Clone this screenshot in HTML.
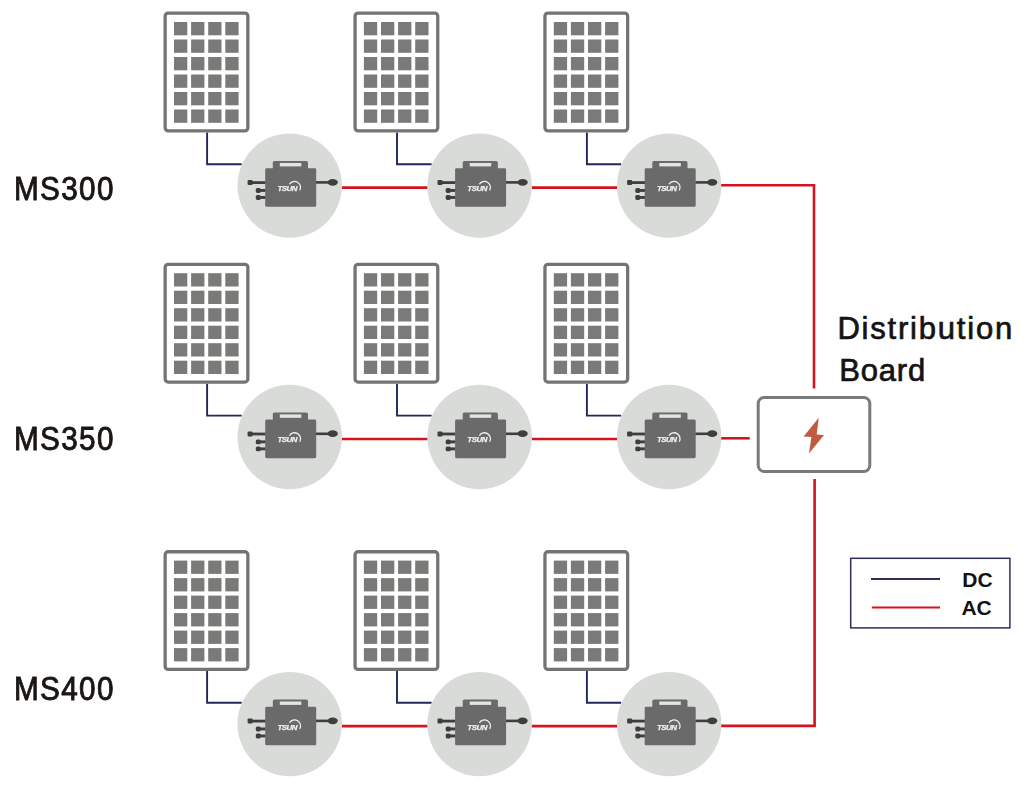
<!DOCTYPE html>
<html><head><meta charset="utf-8">
<style>
html,body{margin:0;padding:0;background:#fff;}
body{width:1030px;height:792px;position:relative;overflow:hidden;font-family:"Liberation Sans",sans-serif;}
svg{position:absolute;left:0;top:0;}
.t{position:absolute;color:#1a1a1a;white-space:nowrap;line-height:1;}
.ms{font-size:33px;font-weight:normal;left:14.4px;letter-spacing:1.5px;color:#1a1614;-webkit-text-stroke:0.9px #1a1614;transform:scaleX(0.9);transform-origin:0 0;}
.db{font-size:31px;font-weight:normal;color:#151312;-webkit-text-stroke:0.7px #151312;}
.lg{font-size:21px;font-weight:bold;color:#111;}
</style></head>
<body>
<svg width="1030" height="792" viewBox="0 0 1030 792">
<path d="M 207.10 132.50 V 164.20 H 241.70" fill="none" stroke="#23265a" stroke-width="1.9"/>
<path d="M 397.00 132.50 V 164.20 H 431.60" fill="none" stroke="#23265a" stroke-width="1.9"/>
<path d="M 586.90 132.50 V 164.20 H 621.20" fill="none" stroke="#23265a" stroke-width="1.9"/>
<line x1="341.70" y1="187.6" x2="427.60" y2="187.6" stroke="#d3141c" stroke-width="2.6"/>
<line x1="531.60" y1="187.6" x2="617.20" y2="187.6" stroke="#d3141c" stroke-width="2.6"/>
<rect x="165.15" y="13.15" width="82.70" height="117.70" rx="3" ry="3" fill="#fff" stroke="#757472" stroke-width="3.3"/>
<rect x="174.00" y="22.00" width="13.3" height="13.3" fill="#7b7a78"/>
<rect x="191.10" y="22.00" width="13.3" height="13.3" fill="#7b7a78"/>
<rect x="208.20" y="22.00" width="13.3" height="13.3" fill="#7b7a78"/>
<rect x="225.30" y="22.00" width="13.3" height="13.3" fill="#7b7a78"/>
<rect x="174.00" y="39.50" width="13.3" height="13.3" fill="#7b7a78"/>
<rect x="191.10" y="39.50" width="13.3" height="13.3" fill="#7b7a78"/>
<rect x="208.20" y="39.50" width="13.3" height="13.3" fill="#7b7a78"/>
<rect x="225.30" y="39.50" width="13.3" height="13.3" fill="#7b7a78"/>
<rect x="174.00" y="57.00" width="13.3" height="13.3" fill="#7b7a78"/>
<rect x="191.10" y="57.00" width="13.3" height="13.3" fill="#7b7a78"/>
<rect x="208.20" y="57.00" width="13.3" height="13.3" fill="#7b7a78"/>
<rect x="225.30" y="57.00" width="13.3" height="13.3" fill="#7b7a78"/>
<rect x="174.00" y="74.50" width="13.3" height="13.3" fill="#7b7a78"/>
<rect x="191.10" y="74.50" width="13.3" height="13.3" fill="#7b7a78"/>
<rect x="208.20" y="74.50" width="13.3" height="13.3" fill="#7b7a78"/>
<rect x="225.30" y="74.50" width="13.3" height="13.3" fill="#7b7a78"/>
<rect x="174.00" y="92.00" width="13.3" height="13.3" fill="#7b7a78"/>
<rect x="191.10" y="92.00" width="13.3" height="13.3" fill="#7b7a78"/>
<rect x="208.20" y="92.00" width="13.3" height="13.3" fill="#7b7a78"/>
<rect x="225.30" y="92.00" width="13.3" height="13.3" fill="#7b7a78"/>
<rect x="174.00" y="109.50" width="13.3" height="13.3" fill="#7b7a78"/>
<rect x="191.10" y="109.50" width="13.3" height="13.3" fill="#7b7a78"/>
<rect x="208.20" y="109.50" width="13.3" height="13.3" fill="#7b7a78"/>
<rect x="225.30" y="109.50" width="13.3" height="13.3" fill="#7b7a78"/>
<circle cx="289.7" cy="185.6" r="52.2" fill="#d9dbd8"/>
<g transform="translate(289.7,185.6)">
<rect x="-38" y="-4.4" width="14" height="2.8" fill="#3e3e3e"/>
<rect x="-42.1" y="-5.6" width="5" height="5" rx="1" fill="#3e3e3e"/>
<rect x="-33.9" y="2.40" width="5" height="4.9" rx="1.6" fill="#3e3e3e"/>
<rect x="-30" y="3.40" width="6" height="2.9" fill="#3e3e3e"/>
<rect x="-33.9" y="9.40" width="5" height="4.9" rx="1.6" fill="#3e3e3e"/>
<rect x="-30" y="10.40" width="6" height="2.9" fill="#3e3e3e"/>
<rect x="26" y="-4.5" width="14" height="2.6" fill="#3e3e3e"/>
<ellipse cx="43" cy="-3.3" rx="5.1" ry="3.4" fill="#3e3e3e"/>
<rect x="-16.9" y="-24.5" width="35.2" height="10" rx="1.6" fill="#6a6a6a"/>
<rect x="-9.9" y="-22.6" width="21.5" height="3.4" fill="#e4e4e4"/>
<rect x="-24.5" y="-17.4" width="51" height="38.6" rx="1.4" fill="#6a6a6a"/>
<text x="-12.3" y="5.4" font-family="Liberation Sans" font-style="italic" font-weight="bold" font-size="7.9" letter-spacing="-0.45" fill="#f2f2f2" stroke="#f2f2f2" stroke-width="0.25" style="filter:grayscale(100%)">TSUN</text>
<path d="M -0.3 -1.3 A 5.3 5.3 0 1 1 10.0 4.8" fill="none" stroke="#f2f2f2" stroke-width="1.25"/>
</g>
<rect x="355.05" y="13.15" width="82.70" height="117.70" rx="3" ry="3" fill="#fff" stroke="#757472" stroke-width="3.3"/>
<rect x="363.90" y="22.00" width="13.3" height="13.3" fill="#7b7a78"/>
<rect x="381.00" y="22.00" width="13.3" height="13.3" fill="#7b7a78"/>
<rect x="398.10" y="22.00" width="13.3" height="13.3" fill="#7b7a78"/>
<rect x="415.20" y="22.00" width="13.3" height="13.3" fill="#7b7a78"/>
<rect x="363.90" y="39.50" width="13.3" height="13.3" fill="#7b7a78"/>
<rect x="381.00" y="39.50" width="13.3" height="13.3" fill="#7b7a78"/>
<rect x="398.10" y="39.50" width="13.3" height="13.3" fill="#7b7a78"/>
<rect x="415.20" y="39.50" width="13.3" height="13.3" fill="#7b7a78"/>
<rect x="363.90" y="57.00" width="13.3" height="13.3" fill="#7b7a78"/>
<rect x="381.00" y="57.00" width="13.3" height="13.3" fill="#7b7a78"/>
<rect x="398.10" y="57.00" width="13.3" height="13.3" fill="#7b7a78"/>
<rect x="415.20" y="57.00" width="13.3" height="13.3" fill="#7b7a78"/>
<rect x="363.90" y="74.50" width="13.3" height="13.3" fill="#7b7a78"/>
<rect x="381.00" y="74.50" width="13.3" height="13.3" fill="#7b7a78"/>
<rect x="398.10" y="74.50" width="13.3" height="13.3" fill="#7b7a78"/>
<rect x="415.20" y="74.50" width="13.3" height="13.3" fill="#7b7a78"/>
<rect x="363.90" y="92.00" width="13.3" height="13.3" fill="#7b7a78"/>
<rect x="381.00" y="92.00" width="13.3" height="13.3" fill="#7b7a78"/>
<rect x="398.10" y="92.00" width="13.3" height="13.3" fill="#7b7a78"/>
<rect x="415.20" y="92.00" width="13.3" height="13.3" fill="#7b7a78"/>
<rect x="363.90" y="109.50" width="13.3" height="13.3" fill="#7b7a78"/>
<rect x="381.00" y="109.50" width="13.3" height="13.3" fill="#7b7a78"/>
<rect x="398.10" y="109.50" width="13.3" height="13.3" fill="#7b7a78"/>
<rect x="415.20" y="109.50" width="13.3" height="13.3" fill="#7b7a78"/>
<circle cx="479.6" cy="185.6" r="52.2" fill="#d9dbd8"/>
<g transform="translate(479.6,185.6)">
<rect x="-38" y="-4.4" width="14" height="2.8" fill="#3e3e3e"/>
<rect x="-42.1" y="-5.6" width="5" height="5" rx="1" fill="#3e3e3e"/>
<rect x="-33.9" y="2.40" width="5" height="4.9" rx="1.6" fill="#3e3e3e"/>
<rect x="-30" y="3.40" width="6" height="2.9" fill="#3e3e3e"/>
<rect x="-33.9" y="9.40" width="5" height="4.9" rx="1.6" fill="#3e3e3e"/>
<rect x="-30" y="10.40" width="6" height="2.9" fill="#3e3e3e"/>
<rect x="26" y="-4.5" width="14" height="2.6" fill="#3e3e3e"/>
<ellipse cx="43" cy="-3.3" rx="5.1" ry="3.4" fill="#3e3e3e"/>
<rect x="-16.9" y="-24.5" width="35.2" height="10" rx="1.6" fill="#6a6a6a"/>
<rect x="-9.9" y="-22.6" width="21.5" height="3.4" fill="#e4e4e4"/>
<rect x="-24.5" y="-17.4" width="51" height="38.6" rx="1.4" fill="#6a6a6a"/>
<text x="-12.3" y="5.4" font-family="Liberation Sans" font-style="italic" font-weight="bold" font-size="7.9" letter-spacing="-0.45" fill="#f2f2f2" stroke="#f2f2f2" stroke-width="0.25" style="filter:grayscale(100%)">TSUN</text>
<path d="M -0.3 -1.3 A 5.3 5.3 0 1 1 10.0 4.8" fill="none" stroke="#f2f2f2" stroke-width="1.25"/>
</g>
<rect x="544.95" y="13.15" width="82.70" height="117.70" rx="3" ry="3" fill="#fff" stroke="#757472" stroke-width="3.3"/>
<rect x="553.80" y="22.00" width="13.3" height="13.3" fill="#7b7a78"/>
<rect x="570.90" y="22.00" width="13.3" height="13.3" fill="#7b7a78"/>
<rect x="588.00" y="22.00" width="13.3" height="13.3" fill="#7b7a78"/>
<rect x="605.10" y="22.00" width="13.3" height="13.3" fill="#7b7a78"/>
<rect x="553.80" y="39.50" width="13.3" height="13.3" fill="#7b7a78"/>
<rect x="570.90" y="39.50" width="13.3" height="13.3" fill="#7b7a78"/>
<rect x="588.00" y="39.50" width="13.3" height="13.3" fill="#7b7a78"/>
<rect x="605.10" y="39.50" width="13.3" height="13.3" fill="#7b7a78"/>
<rect x="553.80" y="57.00" width="13.3" height="13.3" fill="#7b7a78"/>
<rect x="570.90" y="57.00" width="13.3" height="13.3" fill="#7b7a78"/>
<rect x="588.00" y="57.00" width="13.3" height="13.3" fill="#7b7a78"/>
<rect x="605.10" y="57.00" width="13.3" height="13.3" fill="#7b7a78"/>
<rect x="553.80" y="74.50" width="13.3" height="13.3" fill="#7b7a78"/>
<rect x="570.90" y="74.50" width="13.3" height="13.3" fill="#7b7a78"/>
<rect x="588.00" y="74.50" width="13.3" height="13.3" fill="#7b7a78"/>
<rect x="605.10" y="74.50" width="13.3" height="13.3" fill="#7b7a78"/>
<rect x="553.80" y="92.00" width="13.3" height="13.3" fill="#7b7a78"/>
<rect x="570.90" y="92.00" width="13.3" height="13.3" fill="#7b7a78"/>
<rect x="588.00" y="92.00" width="13.3" height="13.3" fill="#7b7a78"/>
<rect x="605.10" y="92.00" width="13.3" height="13.3" fill="#7b7a78"/>
<rect x="553.80" y="109.50" width="13.3" height="13.3" fill="#7b7a78"/>
<rect x="570.90" y="109.50" width="13.3" height="13.3" fill="#7b7a78"/>
<rect x="588.00" y="109.50" width="13.3" height="13.3" fill="#7b7a78"/>
<rect x="605.10" y="109.50" width="13.3" height="13.3" fill="#7b7a78"/>
<circle cx="669.2" cy="185.6" r="52.2" fill="#d9dbd8"/>
<g transform="translate(669.2,185.6)">
<rect x="-38" y="-4.4" width="14" height="2.8" fill="#3e3e3e"/>
<rect x="-42.1" y="-5.6" width="5" height="5" rx="1" fill="#3e3e3e"/>
<rect x="-33.9" y="2.40" width="5" height="4.9" rx="1.6" fill="#3e3e3e"/>
<rect x="-30" y="3.40" width="6" height="2.9" fill="#3e3e3e"/>
<rect x="-33.9" y="9.40" width="5" height="4.9" rx="1.6" fill="#3e3e3e"/>
<rect x="-30" y="10.40" width="6" height="2.9" fill="#3e3e3e"/>
<rect x="26" y="-4.5" width="14" height="2.6" fill="#3e3e3e"/>
<ellipse cx="43" cy="-3.3" rx="5.1" ry="3.4" fill="#3e3e3e"/>
<rect x="-16.9" y="-24.5" width="35.2" height="10" rx="1.6" fill="#6a6a6a"/>
<rect x="-9.9" y="-22.6" width="21.5" height="3.4" fill="#e4e4e4"/>
<rect x="-24.5" y="-17.4" width="51" height="38.6" rx="1.4" fill="#6a6a6a"/>
<text x="-12.3" y="5.4" font-family="Liberation Sans" font-style="italic" font-weight="bold" font-size="7.9" letter-spacing="-0.45" fill="#f2f2f2" stroke="#f2f2f2" stroke-width="0.25" style="filter:grayscale(100%)">TSUN</text>
<path d="M -0.3 -1.3 A 5.3 5.3 0 1 1 10.0 4.8" fill="none" stroke="#f2f2f2" stroke-width="1.25"/>
</g>
<path d="M 207.10 383.70 V 415.60 H 241.70" fill="none" stroke="#23265a" stroke-width="1.9"/>
<path d="M 397.00 383.70 V 415.60 H 431.60" fill="none" stroke="#23265a" stroke-width="1.9"/>
<path d="M 586.90 383.70 V 415.60 H 621.20" fill="none" stroke="#23265a" stroke-width="1.9"/>
<line x1="341.70" y1="439.0" x2="427.60" y2="439.0" stroke="#d3141c" stroke-width="2.6"/>
<line x1="531.60" y1="439.0" x2="617.20" y2="439.0" stroke="#d3141c" stroke-width="2.6"/>
<rect x="165.15" y="264.35" width="82.70" height="117.70" rx="3" ry="3" fill="#fff" stroke="#757472" stroke-width="3.3"/>
<rect x="174.00" y="273.20" width="13.3" height="13.3" fill="#7b7a78"/>
<rect x="191.10" y="273.20" width="13.3" height="13.3" fill="#7b7a78"/>
<rect x="208.20" y="273.20" width="13.3" height="13.3" fill="#7b7a78"/>
<rect x="225.30" y="273.20" width="13.3" height="13.3" fill="#7b7a78"/>
<rect x="174.00" y="290.70" width="13.3" height="13.3" fill="#7b7a78"/>
<rect x="191.10" y="290.70" width="13.3" height="13.3" fill="#7b7a78"/>
<rect x="208.20" y="290.70" width="13.3" height="13.3" fill="#7b7a78"/>
<rect x="225.30" y="290.70" width="13.3" height="13.3" fill="#7b7a78"/>
<rect x="174.00" y="308.20" width="13.3" height="13.3" fill="#7b7a78"/>
<rect x="191.10" y="308.20" width="13.3" height="13.3" fill="#7b7a78"/>
<rect x="208.20" y="308.20" width="13.3" height="13.3" fill="#7b7a78"/>
<rect x="225.30" y="308.20" width="13.3" height="13.3" fill="#7b7a78"/>
<rect x="174.00" y="325.70" width="13.3" height="13.3" fill="#7b7a78"/>
<rect x="191.10" y="325.70" width="13.3" height="13.3" fill="#7b7a78"/>
<rect x="208.20" y="325.70" width="13.3" height="13.3" fill="#7b7a78"/>
<rect x="225.30" y="325.70" width="13.3" height="13.3" fill="#7b7a78"/>
<rect x="174.00" y="343.20" width="13.3" height="13.3" fill="#7b7a78"/>
<rect x="191.10" y="343.20" width="13.3" height="13.3" fill="#7b7a78"/>
<rect x="208.20" y="343.20" width="13.3" height="13.3" fill="#7b7a78"/>
<rect x="225.30" y="343.20" width="13.3" height="13.3" fill="#7b7a78"/>
<rect x="174.00" y="360.70" width="13.3" height="13.3" fill="#7b7a78"/>
<rect x="191.10" y="360.70" width="13.3" height="13.3" fill="#7b7a78"/>
<rect x="208.20" y="360.70" width="13.3" height="13.3" fill="#7b7a78"/>
<rect x="225.30" y="360.70" width="13.3" height="13.3" fill="#7b7a78"/>
<circle cx="289.7" cy="437.0" r="52.2" fill="#d9dbd8"/>
<g transform="translate(289.7,437.0)">
<rect x="-38" y="-4.4" width="14" height="2.8" fill="#3e3e3e"/>
<rect x="-42.1" y="-5.6" width="5" height="5" rx="1" fill="#3e3e3e"/>
<rect x="-33.9" y="2.40" width="5" height="4.9" rx="1.6" fill="#3e3e3e"/>
<rect x="-30" y="3.40" width="6" height="2.9" fill="#3e3e3e"/>
<rect x="-33.9" y="9.40" width="5" height="4.9" rx="1.6" fill="#3e3e3e"/>
<rect x="-30" y="10.40" width="6" height="2.9" fill="#3e3e3e"/>
<rect x="26" y="-4.5" width="14" height="2.6" fill="#3e3e3e"/>
<ellipse cx="43" cy="-3.3" rx="5.1" ry="3.4" fill="#3e3e3e"/>
<rect x="-16.9" y="-24.5" width="35.2" height="10" rx="1.6" fill="#6a6a6a"/>
<rect x="-9.9" y="-22.6" width="21.5" height="3.4" fill="#e4e4e4"/>
<rect x="-24.5" y="-17.4" width="51" height="38.6" rx="1.4" fill="#6a6a6a"/>
<text x="-12.3" y="5.4" font-family="Liberation Sans" font-style="italic" font-weight="bold" font-size="7.9" letter-spacing="-0.45" fill="#f2f2f2" stroke="#f2f2f2" stroke-width="0.25" style="filter:grayscale(100%)">TSUN</text>
<path d="M -0.3 -1.3 A 5.3 5.3 0 1 1 10.0 4.8" fill="none" stroke="#f2f2f2" stroke-width="1.25"/>
</g>
<rect x="355.05" y="264.35" width="82.70" height="117.70" rx="3" ry="3" fill="#fff" stroke="#757472" stroke-width="3.3"/>
<rect x="363.90" y="273.20" width="13.3" height="13.3" fill="#7b7a78"/>
<rect x="381.00" y="273.20" width="13.3" height="13.3" fill="#7b7a78"/>
<rect x="398.10" y="273.20" width="13.3" height="13.3" fill="#7b7a78"/>
<rect x="415.20" y="273.20" width="13.3" height="13.3" fill="#7b7a78"/>
<rect x="363.90" y="290.70" width="13.3" height="13.3" fill="#7b7a78"/>
<rect x="381.00" y="290.70" width="13.3" height="13.3" fill="#7b7a78"/>
<rect x="398.10" y="290.70" width="13.3" height="13.3" fill="#7b7a78"/>
<rect x="415.20" y="290.70" width="13.3" height="13.3" fill="#7b7a78"/>
<rect x="363.90" y="308.20" width="13.3" height="13.3" fill="#7b7a78"/>
<rect x="381.00" y="308.20" width="13.3" height="13.3" fill="#7b7a78"/>
<rect x="398.10" y="308.20" width="13.3" height="13.3" fill="#7b7a78"/>
<rect x="415.20" y="308.20" width="13.3" height="13.3" fill="#7b7a78"/>
<rect x="363.90" y="325.70" width="13.3" height="13.3" fill="#7b7a78"/>
<rect x="381.00" y="325.70" width="13.3" height="13.3" fill="#7b7a78"/>
<rect x="398.10" y="325.70" width="13.3" height="13.3" fill="#7b7a78"/>
<rect x="415.20" y="325.70" width="13.3" height="13.3" fill="#7b7a78"/>
<rect x="363.90" y="343.20" width="13.3" height="13.3" fill="#7b7a78"/>
<rect x="381.00" y="343.20" width="13.3" height="13.3" fill="#7b7a78"/>
<rect x="398.10" y="343.20" width="13.3" height="13.3" fill="#7b7a78"/>
<rect x="415.20" y="343.20" width="13.3" height="13.3" fill="#7b7a78"/>
<rect x="363.90" y="360.70" width="13.3" height="13.3" fill="#7b7a78"/>
<rect x="381.00" y="360.70" width="13.3" height="13.3" fill="#7b7a78"/>
<rect x="398.10" y="360.70" width="13.3" height="13.3" fill="#7b7a78"/>
<rect x="415.20" y="360.70" width="13.3" height="13.3" fill="#7b7a78"/>
<circle cx="479.6" cy="437.0" r="52.2" fill="#d9dbd8"/>
<g transform="translate(479.6,437.0)">
<rect x="-38" y="-4.4" width="14" height="2.8" fill="#3e3e3e"/>
<rect x="-42.1" y="-5.6" width="5" height="5" rx="1" fill="#3e3e3e"/>
<rect x="-33.9" y="2.40" width="5" height="4.9" rx="1.6" fill="#3e3e3e"/>
<rect x="-30" y="3.40" width="6" height="2.9" fill="#3e3e3e"/>
<rect x="-33.9" y="9.40" width="5" height="4.9" rx="1.6" fill="#3e3e3e"/>
<rect x="-30" y="10.40" width="6" height="2.9" fill="#3e3e3e"/>
<rect x="26" y="-4.5" width="14" height="2.6" fill="#3e3e3e"/>
<ellipse cx="43" cy="-3.3" rx="5.1" ry="3.4" fill="#3e3e3e"/>
<rect x="-16.9" y="-24.5" width="35.2" height="10" rx="1.6" fill="#6a6a6a"/>
<rect x="-9.9" y="-22.6" width="21.5" height="3.4" fill="#e4e4e4"/>
<rect x="-24.5" y="-17.4" width="51" height="38.6" rx="1.4" fill="#6a6a6a"/>
<text x="-12.3" y="5.4" font-family="Liberation Sans" font-style="italic" font-weight="bold" font-size="7.9" letter-spacing="-0.45" fill="#f2f2f2" stroke="#f2f2f2" stroke-width="0.25" style="filter:grayscale(100%)">TSUN</text>
<path d="M -0.3 -1.3 A 5.3 5.3 0 1 1 10.0 4.8" fill="none" stroke="#f2f2f2" stroke-width="1.25"/>
</g>
<rect x="544.95" y="264.35" width="82.70" height="117.70" rx="3" ry="3" fill="#fff" stroke="#757472" stroke-width="3.3"/>
<rect x="553.80" y="273.20" width="13.3" height="13.3" fill="#7b7a78"/>
<rect x="570.90" y="273.20" width="13.3" height="13.3" fill="#7b7a78"/>
<rect x="588.00" y="273.20" width="13.3" height="13.3" fill="#7b7a78"/>
<rect x="605.10" y="273.20" width="13.3" height="13.3" fill="#7b7a78"/>
<rect x="553.80" y="290.70" width="13.3" height="13.3" fill="#7b7a78"/>
<rect x="570.90" y="290.70" width="13.3" height="13.3" fill="#7b7a78"/>
<rect x="588.00" y="290.70" width="13.3" height="13.3" fill="#7b7a78"/>
<rect x="605.10" y="290.70" width="13.3" height="13.3" fill="#7b7a78"/>
<rect x="553.80" y="308.20" width="13.3" height="13.3" fill="#7b7a78"/>
<rect x="570.90" y="308.20" width="13.3" height="13.3" fill="#7b7a78"/>
<rect x="588.00" y="308.20" width="13.3" height="13.3" fill="#7b7a78"/>
<rect x="605.10" y="308.20" width="13.3" height="13.3" fill="#7b7a78"/>
<rect x="553.80" y="325.70" width="13.3" height="13.3" fill="#7b7a78"/>
<rect x="570.90" y="325.70" width="13.3" height="13.3" fill="#7b7a78"/>
<rect x="588.00" y="325.70" width="13.3" height="13.3" fill="#7b7a78"/>
<rect x="605.10" y="325.70" width="13.3" height="13.3" fill="#7b7a78"/>
<rect x="553.80" y="343.20" width="13.3" height="13.3" fill="#7b7a78"/>
<rect x="570.90" y="343.20" width="13.3" height="13.3" fill="#7b7a78"/>
<rect x="588.00" y="343.20" width="13.3" height="13.3" fill="#7b7a78"/>
<rect x="605.10" y="343.20" width="13.3" height="13.3" fill="#7b7a78"/>
<rect x="553.80" y="360.70" width="13.3" height="13.3" fill="#7b7a78"/>
<rect x="570.90" y="360.70" width="13.3" height="13.3" fill="#7b7a78"/>
<rect x="588.00" y="360.70" width="13.3" height="13.3" fill="#7b7a78"/>
<rect x="605.10" y="360.70" width="13.3" height="13.3" fill="#7b7a78"/>
<circle cx="669.2" cy="437.0" r="52.2" fill="#d9dbd8"/>
<g transform="translate(669.2,437.0)">
<rect x="-38" y="-4.4" width="14" height="2.8" fill="#3e3e3e"/>
<rect x="-42.1" y="-5.6" width="5" height="5" rx="1" fill="#3e3e3e"/>
<rect x="-33.9" y="2.40" width="5" height="4.9" rx="1.6" fill="#3e3e3e"/>
<rect x="-30" y="3.40" width="6" height="2.9" fill="#3e3e3e"/>
<rect x="-33.9" y="9.40" width="5" height="4.9" rx="1.6" fill="#3e3e3e"/>
<rect x="-30" y="10.40" width="6" height="2.9" fill="#3e3e3e"/>
<rect x="26" y="-4.5" width="14" height="2.6" fill="#3e3e3e"/>
<ellipse cx="43" cy="-3.3" rx="5.1" ry="3.4" fill="#3e3e3e"/>
<rect x="-16.9" y="-24.5" width="35.2" height="10" rx="1.6" fill="#6a6a6a"/>
<rect x="-9.9" y="-22.6" width="21.5" height="3.4" fill="#e4e4e4"/>
<rect x="-24.5" y="-17.4" width="51" height="38.6" rx="1.4" fill="#6a6a6a"/>
<text x="-12.3" y="5.4" font-family="Liberation Sans" font-style="italic" font-weight="bold" font-size="7.9" letter-spacing="-0.45" fill="#f2f2f2" stroke="#f2f2f2" stroke-width="0.25" style="filter:grayscale(100%)">TSUN</text>
<path d="M -0.3 -1.3 A 5.3 5.3 0 1 1 10.0 4.8" fill="none" stroke="#f2f2f2" stroke-width="1.25"/>
</g>
<path d="M 207.10 671.10 V 702.70 H 241.70" fill="none" stroke="#23265a" stroke-width="1.9"/>
<path d="M 397.00 671.10 V 702.70 H 431.60" fill="none" stroke="#23265a" stroke-width="1.9"/>
<path d="M 586.90 671.10 V 702.70 H 621.20" fill="none" stroke="#23265a" stroke-width="1.9"/>
<line x1="341.70" y1="726.1" x2="427.60" y2="726.1" stroke="#d3141c" stroke-width="2.6"/>
<line x1="531.60" y1="726.1" x2="617.20" y2="726.1" stroke="#d3141c" stroke-width="2.6"/>
<rect x="165.15" y="551.75" width="82.70" height="117.70" rx="3" ry="3" fill="#fff" stroke="#757472" stroke-width="3.3"/>
<rect x="174.00" y="560.60" width="13.3" height="13.3" fill="#7b7a78"/>
<rect x="191.10" y="560.60" width="13.3" height="13.3" fill="#7b7a78"/>
<rect x="208.20" y="560.60" width="13.3" height="13.3" fill="#7b7a78"/>
<rect x="225.30" y="560.60" width="13.3" height="13.3" fill="#7b7a78"/>
<rect x="174.00" y="578.10" width="13.3" height="13.3" fill="#7b7a78"/>
<rect x="191.10" y="578.10" width="13.3" height="13.3" fill="#7b7a78"/>
<rect x="208.20" y="578.10" width="13.3" height="13.3" fill="#7b7a78"/>
<rect x="225.30" y="578.10" width="13.3" height="13.3" fill="#7b7a78"/>
<rect x="174.00" y="595.60" width="13.3" height="13.3" fill="#7b7a78"/>
<rect x="191.10" y="595.60" width="13.3" height="13.3" fill="#7b7a78"/>
<rect x="208.20" y="595.60" width="13.3" height="13.3" fill="#7b7a78"/>
<rect x="225.30" y="595.60" width="13.3" height="13.3" fill="#7b7a78"/>
<rect x="174.00" y="613.10" width="13.3" height="13.3" fill="#7b7a78"/>
<rect x="191.10" y="613.10" width="13.3" height="13.3" fill="#7b7a78"/>
<rect x="208.20" y="613.10" width="13.3" height="13.3" fill="#7b7a78"/>
<rect x="225.30" y="613.10" width="13.3" height="13.3" fill="#7b7a78"/>
<rect x="174.00" y="630.60" width="13.3" height="13.3" fill="#7b7a78"/>
<rect x="191.10" y="630.60" width="13.3" height="13.3" fill="#7b7a78"/>
<rect x="208.20" y="630.60" width="13.3" height="13.3" fill="#7b7a78"/>
<rect x="225.30" y="630.60" width="13.3" height="13.3" fill="#7b7a78"/>
<rect x="174.00" y="648.10" width="13.3" height="13.3" fill="#7b7a78"/>
<rect x="191.10" y="648.10" width="13.3" height="13.3" fill="#7b7a78"/>
<rect x="208.20" y="648.10" width="13.3" height="13.3" fill="#7b7a78"/>
<rect x="225.30" y="648.10" width="13.3" height="13.3" fill="#7b7a78"/>
<circle cx="289.7" cy="724.1" r="52.2" fill="#d9dbd8"/>
<g transform="translate(289.7,724.1)">
<rect x="-38" y="-4.4" width="14" height="2.8" fill="#3e3e3e"/>
<rect x="-42.1" y="-5.6" width="5" height="5" rx="1" fill="#3e3e3e"/>
<rect x="-33.9" y="2.40" width="5" height="4.9" rx="1.6" fill="#3e3e3e"/>
<rect x="-30" y="3.40" width="6" height="2.9" fill="#3e3e3e"/>
<rect x="-33.9" y="9.40" width="5" height="4.9" rx="1.6" fill="#3e3e3e"/>
<rect x="-30" y="10.40" width="6" height="2.9" fill="#3e3e3e"/>
<rect x="26" y="-4.5" width="14" height="2.6" fill="#3e3e3e"/>
<ellipse cx="43" cy="-3.3" rx="5.1" ry="3.4" fill="#3e3e3e"/>
<rect x="-16.9" y="-24.5" width="35.2" height="10" rx="1.6" fill="#6a6a6a"/>
<rect x="-9.9" y="-22.6" width="21.5" height="3.4" fill="#e4e4e4"/>
<rect x="-24.5" y="-17.4" width="51" height="38.6" rx="1.4" fill="#6a6a6a"/>
<text x="-12.3" y="5.4" font-family="Liberation Sans" font-style="italic" font-weight="bold" font-size="7.9" letter-spacing="-0.45" fill="#f2f2f2" stroke="#f2f2f2" stroke-width="0.25" style="filter:grayscale(100%)">TSUN</text>
<path d="M -0.3 -1.3 A 5.3 5.3 0 1 1 10.0 4.8" fill="none" stroke="#f2f2f2" stroke-width="1.25"/>
</g>
<rect x="355.05" y="551.75" width="82.70" height="117.70" rx="3" ry="3" fill="#fff" stroke="#757472" stroke-width="3.3"/>
<rect x="363.90" y="560.60" width="13.3" height="13.3" fill="#7b7a78"/>
<rect x="381.00" y="560.60" width="13.3" height="13.3" fill="#7b7a78"/>
<rect x="398.10" y="560.60" width="13.3" height="13.3" fill="#7b7a78"/>
<rect x="415.20" y="560.60" width="13.3" height="13.3" fill="#7b7a78"/>
<rect x="363.90" y="578.10" width="13.3" height="13.3" fill="#7b7a78"/>
<rect x="381.00" y="578.10" width="13.3" height="13.3" fill="#7b7a78"/>
<rect x="398.10" y="578.10" width="13.3" height="13.3" fill="#7b7a78"/>
<rect x="415.20" y="578.10" width="13.3" height="13.3" fill="#7b7a78"/>
<rect x="363.90" y="595.60" width="13.3" height="13.3" fill="#7b7a78"/>
<rect x="381.00" y="595.60" width="13.3" height="13.3" fill="#7b7a78"/>
<rect x="398.10" y="595.60" width="13.3" height="13.3" fill="#7b7a78"/>
<rect x="415.20" y="595.60" width="13.3" height="13.3" fill="#7b7a78"/>
<rect x="363.90" y="613.10" width="13.3" height="13.3" fill="#7b7a78"/>
<rect x="381.00" y="613.10" width="13.3" height="13.3" fill="#7b7a78"/>
<rect x="398.10" y="613.10" width="13.3" height="13.3" fill="#7b7a78"/>
<rect x="415.20" y="613.10" width="13.3" height="13.3" fill="#7b7a78"/>
<rect x="363.90" y="630.60" width="13.3" height="13.3" fill="#7b7a78"/>
<rect x="381.00" y="630.60" width="13.3" height="13.3" fill="#7b7a78"/>
<rect x="398.10" y="630.60" width="13.3" height="13.3" fill="#7b7a78"/>
<rect x="415.20" y="630.60" width="13.3" height="13.3" fill="#7b7a78"/>
<rect x="363.90" y="648.10" width="13.3" height="13.3" fill="#7b7a78"/>
<rect x="381.00" y="648.10" width="13.3" height="13.3" fill="#7b7a78"/>
<rect x="398.10" y="648.10" width="13.3" height="13.3" fill="#7b7a78"/>
<rect x="415.20" y="648.10" width="13.3" height="13.3" fill="#7b7a78"/>
<circle cx="479.6" cy="724.1" r="52.2" fill="#d9dbd8"/>
<g transform="translate(479.6,724.1)">
<rect x="-38" y="-4.4" width="14" height="2.8" fill="#3e3e3e"/>
<rect x="-42.1" y="-5.6" width="5" height="5" rx="1" fill="#3e3e3e"/>
<rect x="-33.9" y="2.40" width="5" height="4.9" rx="1.6" fill="#3e3e3e"/>
<rect x="-30" y="3.40" width="6" height="2.9" fill="#3e3e3e"/>
<rect x="-33.9" y="9.40" width="5" height="4.9" rx="1.6" fill="#3e3e3e"/>
<rect x="-30" y="10.40" width="6" height="2.9" fill="#3e3e3e"/>
<rect x="26" y="-4.5" width="14" height="2.6" fill="#3e3e3e"/>
<ellipse cx="43" cy="-3.3" rx="5.1" ry="3.4" fill="#3e3e3e"/>
<rect x="-16.9" y="-24.5" width="35.2" height="10" rx="1.6" fill="#6a6a6a"/>
<rect x="-9.9" y="-22.6" width="21.5" height="3.4" fill="#e4e4e4"/>
<rect x="-24.5" y="-17.4" width="51" height="38.6" rx="1.4" fill="#6a6a6a"/>
<text x="-12.3" y="5.4" font-family="Liberation Sans" font-style="italic" font-weight="bold" font-size="7.9" letter-spacing="-0.45" fill="#f2f2f2" stroke="#f2f2f2" stroke-width="0.25" style="filter:grayscale(100%)">TSUN</text>
<path d="M -0.3 -1.3 A 5.3 5.3 0 1 1 10.0 4.8" fill="none" stroke="#f2f2f2" stroke-width="1.25"/>
</g>
<rect x="544.95" y="551.75" width="82.70" height="117.70" rx="3" ry="3" fill="#fff" stroke="#757472" stroke-width="3.3"/>
<rect x="553.80" y="560.60" width="13.3" height="13.3" fill="#7b7a78"/>
<rect x="570.90" y="560.60" width="13.3" height="13.3" fill="#7b7a78"/>
<rect x="588.00" y="560.60" width="13.3" height="13.3" fill="#7b7a78"/>
<rect x="605.10" y="560.60" width="13.3" height="13.3" fill="#7b7a78"/>
<rect x="553.80" y="578.10" width="13.3" height="13.3" fill="#7b7a78"/>
<rect x="570.90" y="578.10" width="13.3" height="13.3" fill="#7b7a78"/>
<rect x="588.00" y="578.10" width="13.3" height="13.3" fill="#7b7a78"/>
<rect x="605.10" y="578.10" width="13.3" height="13.3" fill="#7b7a78"/>
<rect x="553.80" y="595.60" width="13.3" height="13.3" fill="#7b7a78"/>
<rect x="570.90" y="595.60" width="13.3" height="13.3" fill="#7b7a78"/>
<rect x="588.00" y="595.60" width="13.3" height="13.3" fill="#7b7a78"/>
<rect x="605.10" y="595.60" width="13.3" height="13.3" fill="#7b7a78"/>
<rect x="553.80" y="613.10" width="13.3" height="13.3" fill="#7b7a78"/>
<rect x="570.90" y="613.10" width="13.3" height="13.3" fill="#7b7a78"/>
<rect x="588.00" y="613.10" width="13.3" height="13.3" fill="#7b7a78"/>
<rect x="605.10" y="613.10" width="13.3" height="13.3" fill="#7b7a78"/>
<rect x="553.80" y="630.60" width="13.3" height="13.3" fill="#7b7a78"/>
<rect x="570.90" y="630.60" width="13.3" height="13.3" fill="#7b7a78"/>
<rect x="588.00" y="630.60" width="13.3" height="13.3" fill="#7b7a78"/>
<rect x="605.10" y="630.60" width="13.3" height="13.3" fill="#7b7a78"/>
<rect x="553.80" y="648.10" width="13.3" height="13.3" fill="#7b7a78"/>
<rect x="570.90" y="648.10" width="13.3" height="13.3" fill="#7b7a78"/>
<rect x="588.00" y="648.10" width="13.3" height="13.3" fill="#7b7a78"/>
<rect x="605.10" y="648.10" width="13.3" height="13.3" fill="#7b7a78"/>
<circle cx="669.2" cy="724.1" r="52.2" fill="#d9dbd8"/>
<g transform="translate(669.2,724.1)">
<rect x="-38" y="-4.4" width="14" height="2.8" fill="#3e3e3e"/>
<rect x="-42.1" y="-5.6" width="5" height="5" rx="1" fill="#3e3e3e"/>
<rect x="-33.9" y="2.40" width="5" height="4.9" rx="1.6" fill="#3e3e3e"/>
<rect x="-30" y="3.40" width="6" height="2.9" fill="#3e3e3e"/>
<rect x="-33.9" y="9.40" width="5" height="4.9" rx="1.6" fill="#3e3e3e"/>
<rect x="-30" y="10.40" width="6" height="2.9" fill="#3e3e3e"/>
<rect x="26" y="-4.5" width="14" height="2.6" fill="#3e3e3e"/>
<ellipse cx="43" cy="-3.3" rx="5.1" ry="3.4" fill="#3e3e3e"/>
<rect x="-16.9" y="-24.5" width="35.2" height="10" rx="1.6" fill="#6a6a6a"/>
<rect x="-9.9" y="-22.6" width="21.5" height="3.4" fill="#e4e4e4"/>
<rect x="-24.5" y="-17.4" width="51" height="38.6" rx="1.4" fill="#6a6a6a"/>
<text x="-12.3" y="5.4" font-family="Liberation Sans" font-style="italic" font-weight="bold" font-size="7.9" letter-spacing="-0.45" fill="#f2f2f2" stroke="#f2f2f2" stroke-width="0.25" style="filter:grayscale(100%)">TSUN</text>
<path d="M -0.3 -1.3 A 5.3 5.3 0 1 1 10.0 4.8" fill="none" stroke="#f2f2f2" stroke-width="1.25"/>
</g>
<path d="M 721.20 185.2 H 814.0 V 388.6" fill="none" stroke="#d3141c" stroke-width="2.6"/>
<line x1="721.20" y1="438.3" x2="749.7" y2="438.3" stroke="#d3141c" stroke-width="2.6"/>
<path d="M 721.20 725.9 H 814.6 V 478.9" fill="none" stroke="#d3141c" stroke-width="2.6"/>
<rect x="758.2" y="397.5" width="111.6" height="74" rx="6" ry="6" fill="#fff" stroke="#7a7a7a" stroke-width="3"/>
<path d="M 818.75 417.8 L 803.6 436.4 L 811.4 437 L 809 453.6 L 824 434.9 L 816.7 434.6 Z" fill="#c15b40"/>
<rect x="850.7" y="558.3" width="159.2" height="69.6" fill="#fff" stroke="#2c2f5c" stroke-width="1.5"/>
<line x1="871" y1="579" x2="940" y2="579" stroke="#2c2f5c" stroke-width="2"/>
<line x1="871.8" y1="607.4" x2="940" y2="607.4" stroke="#d3141c" stroke-width="2"/>
</svg>
<div class="t ms" style="top:172px">MS300</div>
<div class="t ms" style="top:422px">MS350</div>
<div class="t ms" style="top:671.5px">MS400</div>
<div class="t db" style="left:837.4px;top:313px;letter-spacing:1.8px">Distribution</div>
<div class="t db" style="left:839.3px;top:355.3px;letter-spacing:0.8px">Board</div>
<div class="t lg" style="left:962.3px;top:569px">DC</div>
<div class="t lg" style="left:961.4px;top:597.3px">AC</div>
</body></html>
